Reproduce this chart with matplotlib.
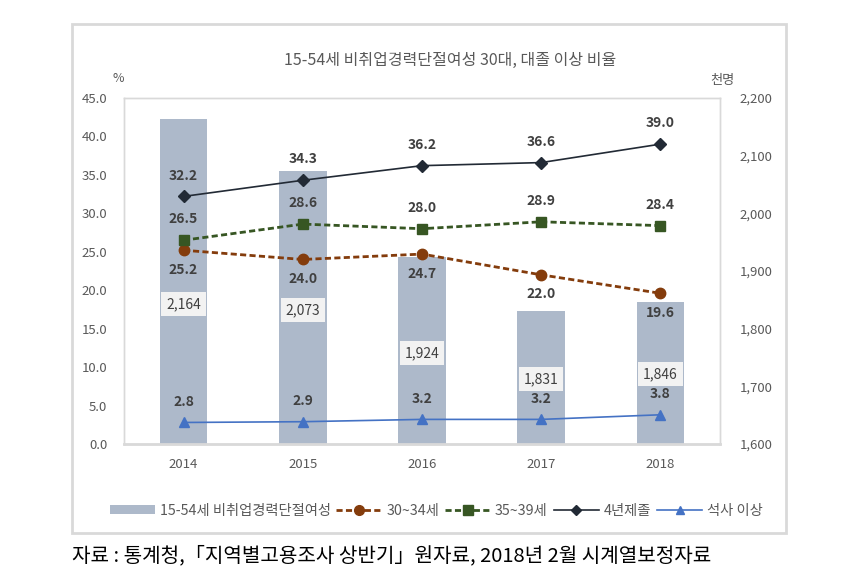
import matplotlib.pyplot as plt
from matplotlib.patches import Rectangle, Patch
from matplotlib.lines import Line2D
from matplotlib.ticker import FuncFormatter

plt.rcParams['font.family'] = ['Noto Sans CJK KR', 'DejaVu Sans']

# 데이터
years = ['2014', '2015', '2016', '2017', '2018']
career_break = [2164, 2073, 1924, 1831, 1846]   # 천명, 오른쪽 축
age_30_34 = [25.2, 24.0, 24.7, 22.0, 19.6]
age_35_39 = [26.5, 28.6, 28.0, 28.9, 28.4]
univ4 = [32.2, 34.3, 36.2, 36.6, 39.0]
master = [2.8, 2.9, 3.2, 3.2, 3.8]

# 막대 라벨 위치 (왼쪽 축 기준)
bar_label_y = [18.2, 17.4, 11.8, 8.45, 9.1]

gray_txt = '#595959'
lab_txt = '#404040'

fig = plt.figure(figsize=(8.43, 5.8), dpi=100)
fig.patches.append(Rectangle((72 / 843, 1 - 533 / 580), (786 - 72) / 843, (533 - 24) / 580,
                             transform=fig.transFigure, fill=False,
                             edgecolor='#D9D9D9', linewidth=2))

ax = fig.add_axes([124 / 843, 1 - 444 / 580, (720 - 124) / 843, (444 - 98) / 580])
ax2 = ax.twinx()
ax.set_zorder(ax2.get_zorder() + 1)
ax.patch.set_visible(False)

x = list(range(len(years)))

# 막대 (오른쪽 축)
ax2.bar(x, [v - 1600 for v in career_break], bottom=1600, width=0.4, color='#ADB9CA', zorder=2)
ax2.set_ylim(1600, 2200)
ax2.set_yticks(range(1600, 2201, 100))
ax2.yaxis.set_major_formatter(FuncFormatter(lambda v, p: f'{int(v):,}'))

for xi, v, ly in zip(x, career_break, bar_label_y):
    ax.text(xi, ly, f'{v:,}', ha='center', va='center', fontsize=10, color=lab_txt,
            bbox=dict(facecolor='#F2F2F2', edgecolor='none', pad=3.5), zorder=1)

# 선
dash = (0, (2.2, 1.2))
ax.plot(x, age_30_34, color='#843C0C', linestyle=dash, linewidth=2,
        marker='o', markersize=7.5, zorder=5)
ax.plot(x, age_35_39, color='#375623', linestyle=dash, linewidth=2,
        marker='s', markersize=7.5, zorder=5)
ax.plot(x, univ4, color='#222A35', linewidth=1.2, marker='D', markersize=6.5, zorder=5)
ax.plot(x, master, color='#4472C4', linewidth=1.2, marker='^', markersize=7.5, zorder=5)


def put_labels(vals, dy):
    for xi, v in zip(x, vals):
        ax.annotate(f'{v:.1f}', (xi, v), xytext=(0, dy), textcoords='offset points',
                    ha='center', va='center', fontsize=10, fontweight='bold', color=lab_txt, zorder=6)


put_labels(univ4, 15)
put_labels(age_35_39, 15)
put_labels(age_30_34, -14)
put_labels(master, 15)

ax.set_xlim(-0.5, len(years) - 0.5)
ax.set_ylim(0, 45)
ax.set_yticks([i * 5 for i in range(10)])
ax.yaxis.set_major_formatter(FuncFormatter(lambda v, p: f'{v:.1f}'))
ax.set_xticks(x)
ax.set_xticklabels(years)

for a in (ax, ax2):
    a.tick_params(length=0, labelsize=9.5, labelcolor=gray_txt)
    for s in a.spines.values():
        s.set_color('#D9D9D9')
        s.set_linewidth(1)
ax2.spines['bottom'].set_linewidth(2)
ax.tick_params(axis='y', pad=12)
ax.tick_params(axis='x', pad=10)
ax2.tick_params(axis='y', pad=14)

fig.text(118 / 843, 1 - 79 / 580, '%', fontsize=9, color=gray_txt, ha='center', va='center')
fig.text(722 / 843, 1 - 80 / 580, '천명', fontsize=9.5, color=gray_txt, ha='center', va='center')
fig.text(450 / 843, 1 - 60 / 580, '15-54세 비취업경력단절여성 30대, 대졸 이상 비율',
         fontsize=11.5, color=gray_txt, ha='center', va='center')

# 범례
handles = [
    Patch(facecolor='#ADB9CA'),
    Line2D([], [], color='#843C0C', linestyle=dash, linewidth=2, marker='o', markersize=7),
    Line2D([], [], color='#375623', linestyle=dash, linewidth=2, marker='s', markersize=7),
    Line2D([], [], color='#222A35', linewidth=1.2, marker='D', markersize=5),
    Line2D([], [], color='#4472C4', linewidth=1.2, marker='^', markersize=6),
]
labels = ['15-54세 비취업경력단절여성', '30~34세', '35~39세', '4년제졸', '석사 이상']
leg = fig.legend(handles, labels, loc='center', bbox_to_anchor=(436 / 843, 1 - 511 / 580), ncol=5,
                 frameon=False, fontsize=10.3, handlelength=3.2, handleheight=0.6,
                 columnspacing=0.4, handletextpad=0.3)
for t in leg.get_texts():
    t.set_color(gray_txt)

fig.text(72 / 843, 1 - 556 / 580, '자료 : 통계청,「지역별고용조사 상반기」원자료, 2018년 2월 시계열보정자료',
         fontsize=14.5, color='black', ha='left', va='center')

fig.savefig('out.png', dpi=100)
